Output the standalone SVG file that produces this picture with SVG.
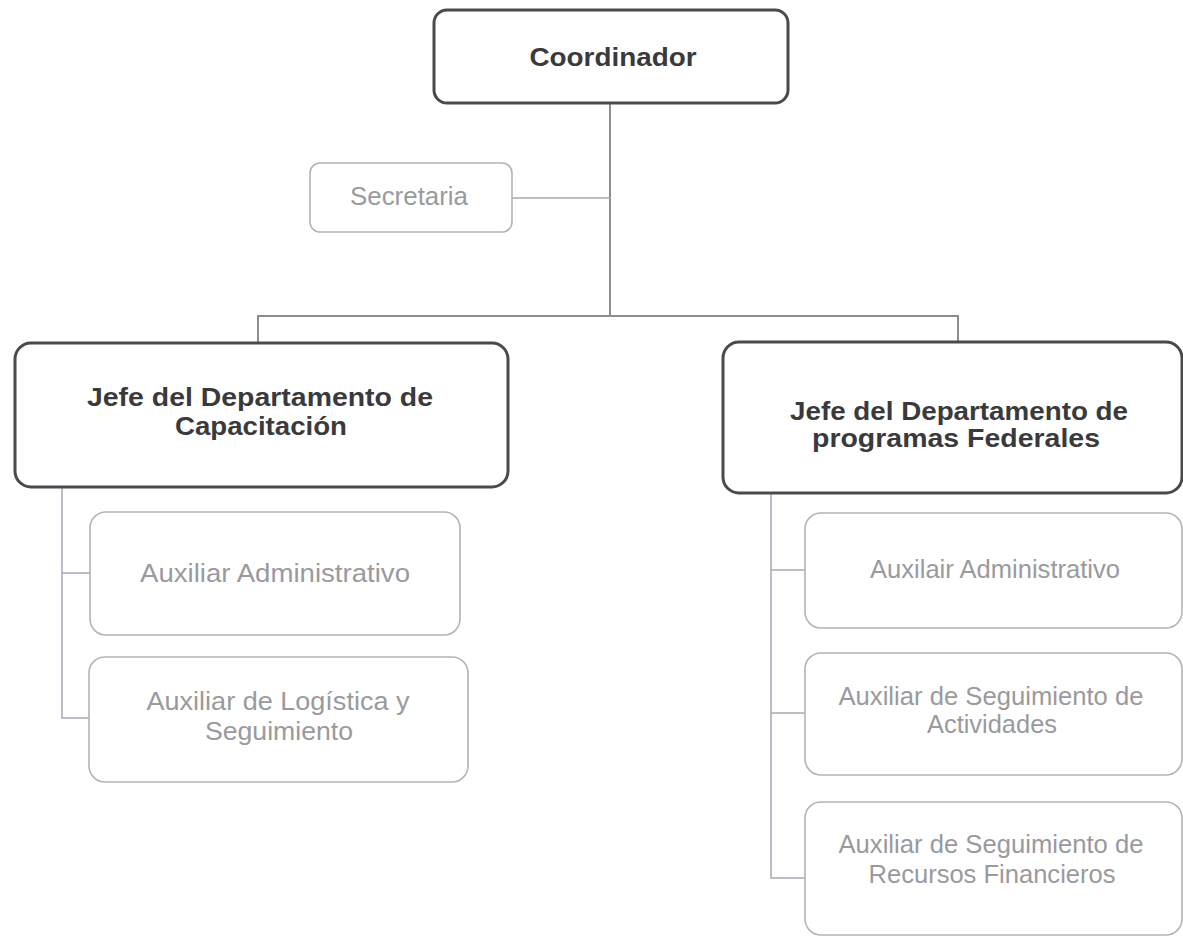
<svg xmlns="http://www.w3.org/2000/svg" width="1183" height="936" viewBox="0 0 1183 936">
<style>
.main{fill:#fff;stroke:#4a4a4e;stroke-width:3}
.sub{fill:#fff;stroke:#b4b4b8;stroke-width:1.6}
.tb{font-family:"Liberation Sans",Arial,sans-serif;font-weight:bold;font-size:25px;fill:#3a3a3c;text-anchor:middle}
.tl{font-family:"Liberation Sans",Arial,sans-serif;font-size:25px;fill:#9a9a9e;text-anchor:middle}
.c{fill:none;stroke:#8c8c94;stroke-width:2}
.cl{fill:none;stroke:#a8a8b8;stroke-width:1.5}
</style>
<rect width="1183" height="936" fill="#fff"/>
<g id="connectors">
<path class="c" d="M610,104 V317 M258,342 V316 H958 V342"/>
<path class="cl" d="M512,198 H610"/>
<path class="cl" d="M62,487 V718 H89 M62,573 H90"/>
<path class="cl" d="M771,493 V878 H805 M771,570 H805 M771,713 H805"/>
</g>
<g id="coordinador">
<rect class="main" x="434" y="10" width="354" height="93" rx="13"/>
<text class="tb" x="613" y="66" textLength="167" lengthAdjust="spacingAndGlyphs">Coordinador</text>
</g>
<g id="secretaria">
<rect class="sub" x="310" y="163" width="202" height="69" rx="10"/>
<text class="tl" x="409" y="205" textLength="118" lengthAdjust="spacingAndGlyphs">Secretaria</text>
</g>
<g id="jefe-capacitacion">
<rect class="main" x="15" y="343" width="493" height="144" rx="16"/>
<text class="tb" x="260" y="406" textLength="346" lengthAdjust="spacingAndGlyphs">Jefe del Departamento de</text>
<text class="tb" x="261" y="435" textLength="172" lengthAdjust="spacingAndGlyphs">Capacitación</text>
</g>
<g id="jefe-federales">
<rect class="main" x="723" y="342" width="459" height="151" rx="16"/>
<text class="tb" x="959" y="420" textLength="338" lengthAdjust="spacingAndGlyphs">Jefe del Departamento de</text>
<text class="tb" x="956" y="447" textLength="288" lengthAdjust="spacingAndGlyphs">programas Federales</text>
</g>
<g id="aux-admin-1">
<rect class="sub" x="90" y="512" width="370" height="123" rx="16"/>
<text class="tl" x="275" y="582" textLength="270" lengthAdjust="spacingAndGlyphs">Auxiliar Administrativo</text>
</g>
<g id="aux-logistica">
<rect class="sub" x="89" y="657" width="379" height="125" rx="16"/>
<text class="tl" x="278" y="710" textLength="263" lengthAdjust="spacingAndGlyphs">Auxiliar de Logística y</text>
<text class="tl" x="279" y="740" textLength="148" lengthAdjust="spacingAndGlyphs">Seguimiento</text>
</g>
<g id="aux-admin-2">
<rect class="sub" x="805" y="513" width="377" height="115" rx="16"/>
<text class="tl" x="995" y="578" textLength="250" lengthAdjust="spacingAndGlyphs">Auxilair Administrativo</text>
</g>
<g id="aux-actividades">
<rect class="sub" x="805" y="653" width="377" height="122" rx="16"/>
<text class="tl" x="991" y="705" textLength="305" lengthAdjust="spacingAndGlyphs">Auxiliar de Seguimiento de</text>
<text class="tl" x="992" y="733" textLength="130" lengthAdjust="spacingAndGlyphs">Actividades</text>
</g>
<g id="aux-recursos">
<rect class="sub" x="805" y="802" width="377" height="133" rx="16"/>
<text class="tl" x="991" y="853" textLength="305" lengthAdjust="spacingAndGlyphs">Auxiliar de Seguimiento de</text>
<text class="tl" x="992" y="883" textLength="247" lengthAdjust="spacingAndGlyphs">Recursos Financieros</text>
</g>
</svg>
